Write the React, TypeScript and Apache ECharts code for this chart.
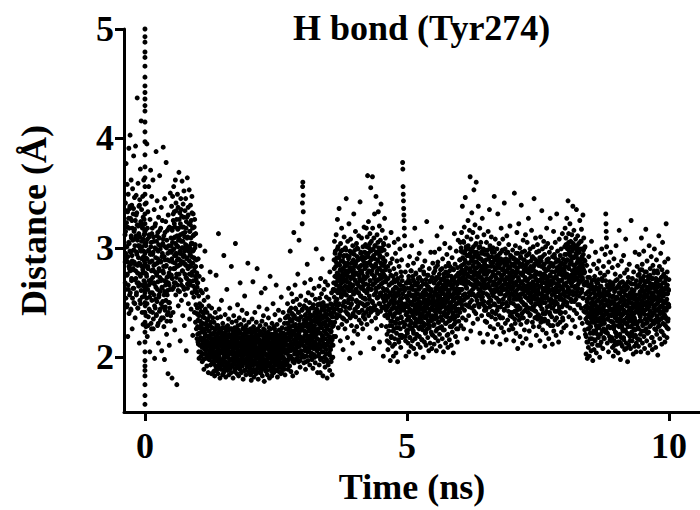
import React, { useEffect, useRef } from "react";
import * as echarts from "echarts";

// Distances in hundredths of an angstrom, per time window (ns)
const S_m04 = [312,268,341,295,254,377,289,323,246,301,358,276,333,219,287,349,262,305,391,240,318,281,336,297,403,259,327,285,244,362,309,272,339,293,226,318,354,280,263,331,298,384,250,315,287,346,271,302,236,325,393,279,311,348,257,296,332,268,437,307,284,245,359,320,291,265,338,302,213,276,344,310,285,372,249,324,297,416,266,335,283,301,255,319,347,277,230,308,292,362,270,326,288,241,315];
const S_00 = [283,247,316,265,302,228,341,276,254,395,290,219,308,262,333,281,237,298,356,270,244,312,287,205,326,259,294,371,268,231,305,279,347,252,288,318,241,273,362,296,226,310,284,257,335,267,199,300,278,245,322,291,264,388,238,306,275,251,343,286,229,314,269,297,213,328,255,281,309,242,366,273,260,299,234,318,287,249,337,271,206,292,263,325,246,304,279,392,236,283,311,257,270,198,345,289,243,301,266,324,252,378,284,221,307,273,239,316,261,295,185,330,268,250,302,277,211,319,245,288,262,350,233,297,274];
const S_05 = [302,275,338,290,181,316,262,347,298,241,325,281,356,309,268,333,293,225,319,286,362,304,257,341,295,273,326,175,311,283,349,266,301,337,247,318,290,369,276,308,260,332,297,215,322,285,345,270,306,252,329,294,361,279,313,238,300,340,287,264,319,352,293,229,310,276,334,299,257,345,284,318,206,302,272,328,291,364,263,310,281,337,249,297,322,270,353,288,235,315,300,266,339,283,309,244,325,292,275,347,259,304,318,220,286,331,270,298,255,312,279,241,326,290,262,303,232,283,248,271,226,259,240,217,264];
const S_10 = [245,221,268,234,290,212,256,238,199,274,227,249,302,216,233,261,205,242,228,283,211,247,223,196,259,231,214,271,203,240,225,189,252,218,236,208,297,222,244,199,230,215,262,207,226,192,241,213,234,201,255,219,186,229,210,247,198,224,212,238,204,278,217,193,232,208,221,185,245,214,200,227,209,236,196];
const S_13 = [208,195,221,187,232,203,214,183,226,199,241,210,192,218,275,205,188,229,212,197,236,201,222,185,215,313,207,193,244,211,199,226,181,218,204,237,196,212,189,252,223,206,194,216,184,231,209,198,220,186,293,213,201,227,191,208,239,196,217,182,224,205,211,193,262,219,200,188,229,207,214,195,235,203,184,221,210,197,245,212,190,226,204,218,186,283,209,198,232,215,192,206,224,181,213,200,238,208,194,219,187,227,211,196,304,216,203,190,233,209,221,185,214,199,248,206,193,225,210,183,218,202,236,195,213,189,268,222,205,197,230,211,186,217,201,243,208,192,226,214,180,220,204,198,234,212,188,256,207,195,223,203,216,184,229,210,199,240,206,191,219,213,286,201,225,187,209,232,196,218,205];
const S_20 = [203,190,217,184,226,198,211,179,222,206,194,235,209,187,215,269,201,193,228,212,182,219,204,196,241,210,188,224,200,213,185,232,207,195,218,281,203,191,226,214,180,220,199,209,246,192,216,205,186,229,211,197,223,204,189,259,214,200,233,208,183,221,195,212,202,238,190,217,206,178,225,210,198,263,215,193,230,203,187,219,209,196,244,212,184,222,201,214,192,236,207,199,227,210,181,218,204,274,195,213,226,189,208,221,200,183,231,211,197,216,205,249,191,219,209,186,228,202,214,194,239,206,198,223,188,212,266,203,217,193,230,208,182,220,201,213,196,243,210,187,225,204,215,191,234,207,199,221,185,212,255,203,218,195,227,209,189,216,205,241,200,222,192,214,207,231,197,219,184,211,236,204,226,193,215];
const S_27 = [218,204,237,195,226,249,211,189,231,216,263,201,224,242,208,192,235,219,297,206,228,187,245,213,222,258,199,233,210,239,183,221,251,207,229,314,216,195,238,224,205,266,212,230,198,244,219,226,186,253,209,235,217,202,276,227,213,241,196,222,307,234,210,248,219,191,229,204,256,215,237,200,225,212,243,322,341,356,360,348,333,218,231,195,247,210,224,268,206,238,215,189,252,221,233,201,245,213,228,285,209,236,218,197,259,224,242,207,230,215,250,193,226,239,211,271,220,204,245,232,216,198,257,227,212,238,190,223,248,208,234,219,263,202,229,241,214,195,253,225,236,210,299,221,244,206,232,217,186,248];
const S_33 = [226,248,201,237,212,265,193,230,254,208,241,186,222,272,216,235,199,258,227,244,205,290,219,231,183,250,213,238,196,262,224,209,246,232,191,269,217,240,203,228,255,198,236,221,181,247,211,266,229,193,243,215,234,253,204,225,188,278,218,239,207,249,223,196,232,259,212,245,184,228,241,200,237,262,219];
const S_36 = [268,241,289,255,306,232,274,261,297,219,283,248,312,266,236,291,253,277,326,244,270,301,227,262,285,249,336,273,238,294,259,280,215,304,267,243,288,256,318,230,275,262,298,247,281,207,269,292,235,258,310,276,251,286,226,265,300,242,279,257,345,271,233,293,263,284,218,306,250,274,239,290,261,322,245,280,199,267,297,236,255,308,272,248,286,229,264,295,253,278,213,302,266,240,289,258,331,275,224,283,260,298,244,270,315,237,287,262,251,304,228,276,292,246,268,221,299,259,282,241,311,265,234,290,272,250,342,279,204,295,256,284,231,309,263,277,243,292,269,226,301,254,288,239,274,319,261,247,296,235];
const S_42 = [281,253,303,267,241,295,318,259,286,230,310,274,366,249,292,263,324,238,279,300,256,287,218,313,270,245,297,355,262,284,306,233,276,291,251,365,318,266,243,299,282,208,309,257,272,331,290,247,268,302,236,283,347,260,295,226,277,312,254,289,240,305,271,333,264,296,249,281,320,214,293,258,275,307,242,286,340,267,229,300,279,256,316,273,245,291,263,201,304,284,251,298,269,327,238,288,274,309,257,282];
const S_46 = [252,228,271,239,294,215,261,246,283,207,255,238,302,224,266,249,213,279,242,259,197,286,233,251,314,219,268,244,229,290,256,210,274,237,262,201,248,281,226,305,253,217,269,240,232,295,258,204,276,245,222,263,288,235,250,196,272,241,308,227,257,214,283,246,261,231,299,220,266,251,209,278,243,236,289,254,218,270,247,378,372,356,349,343,336,330,325,318,311,302,263,230,278,215,249,201,239,268,224,256];
const S_50 = [241,268,222,253,284,213,247,236,271,205,259,229,292,244,218,263,250,233,279,210,256,241,302,226,265,248,215,274,238,257,224,286,208,252,243,269,231,318,246,217,261,235,277,203,254,240,266,221,290,249,232,258,212,272,243,227,263,251,295,219,246,237,280,209,255,264,228,244,306,234,270,216,250,239,283,225,259,200,267,242,231,276,253,214,246,288,236,261,222,248,271,211,257,238,324,245,226,265,252,218,275,240,233,262,206,249,281,229,256,243,213,270,237,296,251,223,260,245,208,273,234,255,247,286,220];
const S_55 = [254,229,277,243,212,268,251,296,235,260,218,282,247,239,271,206,258,244,311,226,265,252,287,215,249,273,232,262,242,299,221,256,268,210,245,280,237,263,250,319,228,271,246,217,259,290,234,266,253,205,276,241,262,225,248,304,238,270,256,213,283,244,231,265,251,294,220,258,274,240,209,267,254,286,233,261,247,216,279,243,300,228,257,269,236,250,211,274,263,245,291,223,255,281,239,266,204,252,272,230,259,313,247,236,285,261,219,268,242,254,297,226,263,275,249,214,282,238,258,307,244,270,233,262,251];
const S_60 = [262,289,241,276,305,254,283,229,297,268,314,248,280,262,338,236,291,273,252,306,226,285,267,319,243,278,295,258,346,271,287,234,301,264,282,217,310,255,276,293,247,325,269,286,238,299,274,259,316,281,250,365,292,267,224,308,278,257,288,332,245,297,272,262,314,231,284,301,266,353,279,247,293,270,321,256,287,303,240,276,360,265,296,252,282,310,269,235,291,274,338,258,285,300,246,277,267,318,222,290,261,283,305,249,273,296,238,281,264,327,255,288,271,214,299,279,251,312,268,243,286,263,294,233,276];
const S_65 = [271,243,289,258,305,232,276,264,298,221,283,250,315,267,239,292,255,279,335,246,270,302,228,262,287,252,273,310,237,285,259,296,214,278,266,241,300,256,283,226,269,347,290,248,275,260,308,235,281,266,292,219,272,254,299,243,285,263,331,230,277,289,251,268,304,238,282,258,212,295,271,246,286,264,318,227,274,261,297,249,280,236,308,266,253,289,223,276,262,341,244,284,270,299,231,268,257,290,216,279,263,311,247,286,272,234,296,259,281,242,303,267,225,288,255,274,320,238,265,293,250,277,262,229,284];
const S_70 = [258,285,237,272,298,226,264,249,291,215,278,256,350,242,283,268,231,302,260,276,222,289,253,269,314,239,281,262,208,295,247,273,257,322,234,286,265,244,300,219,277,254,291,230,268,339,251,283,240,296,262,213,275,258,307,236,289,266,248,280,225,297,261,271,243,312,255,284,217,270,293,246,263,305,233,278,259,287,241,327,267,252,295,224,281,264,238,299,256,273,211,288,250,266,316,244,279,260,232,292,268,254,301,228,283,262,345,247,275,290,236,265,253,309,242,286,271,220,296,258,277,249,303,235,269];
const S_75 = [262,239,284,251,297,228,270,258,291,215,277,247,310,265,236,288,253,274,334,244,268,299,225,260,283,250,272,306,233,281,256,294,210,275,263,240,301,254,279,222,267,318,287,246,271,259,304,231,280,264,290,217,269,252,296,241,283,261,327,229,274,286,249,266,300,237,278,257,212,292,268,245,285,262,315,224,272,259,294,248,278,234,305,263,251,287,220,273,260,331,242,282,267,297,230,265,255,289,214,276,261,308,246,284,270,232,293,257,279,241,299,264,223,286,253,271,313,236,262,290,248,275,259,227,281];
const S_80 = [279,252,301,266,318,241,287,273,309,229,294,260,327,276,247,303,264,289,343,255,282,313,237,271,297,261,285,322,245,293,268,306,222,288,275,251,312,265,291,234,279,338,299,257,284,270,316,243,292,276,302,228,281,263,308,253,295,273,335,240,286,298,260,277,311,248,290,267,218,304,282,256,296,274,325,236,283,270,306,259,289,245,317,278,262,299,231,285,271,330,254,294,280,309,242,277,266,300,225,288];
const S_84 = [246,221,268,235,203,258,242,284,214,251,199,237,273,226,260,209,245,292,231,255,201,266,240,217,279,249,228,262,206,243,306,234,270,212,253,238,197,264,247,222,285,241,207,259,232,274,216,250,236,296,224,262,244,204,268,239,227,281,252,211,257,233,271,218,246,288,229,263,241,200,255,236,277,221,249,265,214,243,230,299,258,224,270,237,208,252,245,283,226,261,234,217,275,248,239,294,223,257,331,322,315,309,301,242,266,213,251,235,278,228,260,205,247,287,238,256,219,269,243,227,262,296,233,250,215];
const S_89 = [239,264,218,251,282,209,243,232,268,201,256,226,290,241,215,260,247,229,276,206,253,238,302,222,263,245,212,271,235,254,220,284,204,249,240,266,228,316,243,214,258,232,274,198,251,237,263,218,288,246,229,255,210,269,240,224,260,248,293,216,243,234,277,207,252,261,225,241,308,231,267,213,247,236,280,222,256,196,264,239,228,273,250,211,243,285,233,258,219,245,268,208,254,235,325,242,223,262,249,215,272,237,230,259,203,246,278,226,253,240,210,267,234,296,248,220,257,242,205,270,231,252,244,283,217];
const S_94 = [252,227,275,241,210,266,249,294,233,258,216,280,245,237,269,205,256,242,309,224,263,250,285,213,247,271,230,260,240,297,219,254,266,208,243,278,235,261,248,317,226,269,244,215,257,288,232,264,251,204,274,239,260,223,246,302,236,268,254,211,281,242,229,263,249,292,218,256,272,238,207,265,252,284,231,259,245,214,277,241,299,226,255,267,234,248,209,272,261,243,289,221,253,279,237,264,202,250,270,228,257,311,245,234,283,259,217,266,240,252,295,224,261,273,247,212,280,236,256,305,242,268,231,260,249,276,220,258,239,287,214,263,250,229,271,244,322,235,265,253,218,278,246,258,233,290,226,262,248,271];

// Additional frames in each window (dense core of the distribution)
const C_m04 = [287,315,262,301,334,275,248,319,292,266,327,283,304,257,338,279,296,243,311,270,325,288,254,307,281,336,263,298,317,249,285,309,272,330,259,294,321,277,245,302,268,313,286,339,252,299,274,322,261,306,290,241,318,280,328,265,297,312,256,284];
const C_00 = [262,291,238,305,274,249,318,283,229,297,266,310,255,287,242,301,271,226,313,259,294,280,235,306,268,247,320,285,253,299,239,276,311,262,290,231,303,257,279,316,244,288,270,302,236,264,295,251,308,277,228,292,260,314,246,283,269,300,233,257,289,274,241,318,266,250,297,281,238,309];
const C_05 = [296,318,272,305,287,331,264,299,322,281,310,268,293,334,276,302,289,317,261,307,284,326,295,271,312,288,335,266,300,319,279,306,292,328,262,297,314,285,303,273,324,290,309,267,298,330,283,301,276,315,294,321,269,304,286,332,278,297,311,265,291,319,282,300,274,313,260,289,277,268];
const C_10 = [228,214,239,205,222,233,211,246,218,201,230,224,209,237,216,198,226,212,242,207,220,231,203,215,227,210,235,199,219,224,206,213,229,202,217,208,221,196,212,204];
const C_13 = [205,217,194,223,209,188,214,199,226,203,191,219,208,229,196,212,201,224,190,215,206,197,221,210,193,227,204,218,199,211,188,216,207,222,195,213,202,228,191,209,218,200,225,193,214,205,190,220,211,198,226,203,216,194,208,222,197,213,204,189,219,210,200,224,192,215,207,229,196,212,202,218,190,223,206,198,214,209,193,221,201,217,195,227,205,211,188,220,203,214,197,225,208,192,216,200,223,195,210,206];
const C_20 = [201,213,192,219,206,186,211,197,223,204,189,216,208,225,194,210,199,221,187,214,203,195,218,207,190,224,200,215,196,209,186,213,204,220,193,211,198,226,189,207,216,197,222,191,212,202,188,217,209,195,223,200,214,192,205,219,194,210,201,187,218,207,197,221,190,213,204,226,193,209,199,216,188,220,203,196,212,206,191,219,198,215,193,224,202,208,186,217,200,211,195,222,205,189,213,198,220,193,207,204];
const C_27 = [216,231,204,238,222,198,227,210,243,215,201,233,219,207,240,224,196,229,212,236,203,221,245,208,226,214,199,235,218,205,241,223,210,230,197,217,237,206,225,213,244,202,228,216,200,234,220,209,239,223,196,231,214,205,242,219,207,227,212,235,201,224,217,238,209,229,203,221,245,213,226,200,233,218,208,240,222,211,236,225];
const C_33 = [225,241,203,233,215,249,198,228,238,210,246,220,205,236,217,243,200,230,212,247,222,207,239,226,196,234,214,244,219,202,231,209,240,224,199,237,216,248,211,229];
const C_36 = [262,281,244,295,268,251,287,273,239,299,259,276,248,291,265,284,242,270,297,255,279,263,236,288,272,250,293,260,283,246,275,298,257,269,240,286,264,278,253,292,268,245,282,261,296,249,274,287,238,266,280,258,294,271,243,285,262,277,252,300,267,247,289,259,275,241,283,270,256,296,263,279,249,290,265,237,284,272,254,291];
const C_42 = [272,291,248,283,301,260,277,244,295,266,286,253,304,270,241,289,262,279,298,250,283,267,293,246,274,302,258,285,263,296,243,279,270,288,255,300,265,281,249,292,272,259,297,246,284,268,290,254,276,303,261,287,247,280,269];
const C_46 = [243,262,221,255,236,272,214,248,266,229,258,240,275,218,252,233,268,245,224,260,238,271,212,250,264,231,256,244,227,270,235,259,216,247,267,241,253,226,262,237,274,220,249,258,232,265,243,228,261,246,219,255,239,268,234];
const C_50 = [246,263,225,252,274,237,258,218,268,243,231,279,250,227,262,241,271,222,255,236,266,248,229,276,244,258,220,253,268,234,247,262,226,273,240,257,232,265,249,216,270,238,255,245,278,229,261,242,251,223,267,236,258,247,275,230,253,264,240,227,269,244,257,233,262,250,221,272,238,254];
const C_55 = [251,268,230,257,279,242,263,224,273,248,236,284,255,232,267,246,276,227,260,241,271,253,234,281,249,263,225,258,273,239,252,267,231,278,245,262,237,270,254,221,275,243,260,250,283,234,266,247,256,228,272,241,263,252,280,235,258,269,245,232,274,249,262,238,267,255,226,277,243,259];
const C_60 = [272,289,250,278,300,262,284,245,296,270,257,305,276,253,289,267,298,248,281,263,293,274,255,302,268,286,246,279,295,260,273,288,252,299,266,283,258,291,275,242,296,264,281,271,304,255,287,268,277,249,293,262,284,273,301,256,279,290,266,253,295,270,283,259,288,276,247,298,264,280];
const C_65 = [266,283,245,272,294,257,278,239,290,264,251,299,270,247,283,261,292,242,275,257,287,268,249,296,262,280,240,273,289,254,267,282,246,293,260,277,252,285,269,236,290,258,275,265,298,249,281,262,271,243,287,256,278,267,295,250,273,284,260,247,289,264,277,253,282,270,241,292,258,274];
const C_70 = [262,279,241,268,290,253,274,235,286,260,247,295,266,243,279,257,288,238,271,253,283,264,245,292,258,276,236,269,285,250,263,278,242,289,256,273,248,281,265,232,286,254,271,261,294,245,277,258,267,239,283,252,274,263,291,246,269,280,256,243,285,260,273,249,278,266,237,288,254,270];
const C_75 = [259,276,238,265,287,250,271,232,283,257,244,292,263,240,276,254,285,235,268,250,280,261,242,289,255,273,233,266,282,247,260,275,239,286,253,270,245,278,262,229,283,251,268,258,291,242,274,255,264,236,280,249,271,260,288,243,266,277,253,240,282,257,270,246,275,263,234,285,251,267];
const C_80 = [277,294,256,283,303,268,289,250,299,275,262,305,281,258,294,272,301,253,286,268,297,279,260,304,273,291,251,284,300,265,278,293,257,302,271,288,263,296,280,248,299,269,286,276,306,260,292,273,282,254,298,267,289,278,301];
const C_84 = [241,258,219,247,269,232,253,214,265,239,226,273,245,222,258,236,267,217,250,232,262,243,224,271,237,255,215,248,264,229,242,257,221,268,235,252,227,260,244,211,265,233,250,240,272,224,256,237,246,218,262,231,253,242,270,225,248,259,235,222,264,239,252,228,257,245,216,267,233,249];
const C_89 = [238,255,216,244,266,229,250,211,262,236,223,270,242,219,255,233,264,214,247,229,259,240,221,268,234,252,212,245,261,226,239,254,218,265,232,249,224,257,241,208,262,230,247,237,269,221,253,234,243,215,259,228,250,239,267,222,245,256,232,219,261,236,249,225,254,242,213,264,230,246];
const C_94 = [248,265,226,254,276,239,260,221,272,246,233,280,252,229,265,243,274,224,257,239,269,250,231,278,244,262,222,255,271,236,249,264,228,275,242,259,234,267,251,218,272,240,257,247,279,231,263,244,253,225,269,238,260,249,277,232,255,266,242,229,271,246,259,235,264,252,223,274,240,256,245,262,230,268,251,237,273,243,258,227,266,249,235,261,246];

// frames recorded at t = 0
const S_ZERO = [500,493,488,479,474,466,456,448,442,436,430,425,415,406,397,385,374,364,356,349,340,331,322,313,304,295,286,277,268,259,250,241,232,223,214,205,197,192,188,183,175,165,157];

const SEGMENTS: [number, number, number[], number[]][] = [
  [-0.38, 0, S_m04, C_m04], [0, 0.5, S_00, C_00], [0.5, 1.0, S_05, C_05], [1.0, 1.3, S_10, C_10],
  [1.3, 2.0, S_13, C_13], [2.0, 2.7, S_20, C_20], [2.7, 3.3, S_27, C_27], [3.3, 3.6, S_33, C_33],
  [3.6, 4.2, S_36, C_36], [4.2, 4.6, S_42, C_42], [4.6, 5.0, S_46, C_46], [5.0, 5.5, S_50, C_50],
  [5.5, 6.0, S_55, C_55], [6.0, 6.5, S_60, C_60], [6.5, 7.0, S_65, C_65], [7.0, 7.5, S_70, C_70],
  [7.5, 8.0, S_75, C_75], [8.0, 8.4, S_80, C_80], [8.4, 8.9, S_84, C_84], [8.9, 9.4, S_89, C_89],
  [9.4, 10.0, S_94, C_94],
];

const X_TICKS = [0, 5, 10];
const Y_TICKS = [2, 3, 4, 5];

function buildPoints(): number[][] {
  const pts: number[][] = [];
  for (const [t0, t1, vals, core] of SEGMENTS) {
    const n = vals.length;
    for (let i = 0; i < n; i++) pts.push([t0 + ((t1 - t0) * i) / n, vals[i] / 100]);
    const m = core.length;
    for (let i = 0; i < m; i++) pts.push([t0 + ((t1 - t0) * (i + 0.5)) / m, core[i] / 100]);
  }
  for (const v of S_ZERO) pts.push([0, v / 100]);
  return pts;
}

const FONT = "Liberation Serif";

export default function App() {
  const ref = useRef<HTMLDivElement>(null);
  useEffect(() => {
    if (!ref.current) return;
    const chart = echarts.init(ref.current, null, { renderer: "svg" });
    const axisText = { fontFamily: FONT, fontWeight: "bold" as const, fontSize: 36, color: "#000" };
    chart.setOption({
      animation: false,
      title: {
        text: "H bond (Tyr274)",
        left: 293,
        top: 10,
        padding: 0,
        textStyle: { ...axisText },
      },
      grid: { left: 124, right: 0, top: 29, bottom: 96 },
      xAxis: {
        type: "value",
        min: -0.4,
        max: 10.59,
        name: "Time (ns)",
        nameLocation: "middle",
        nameGap: 57,
        nameTextStyle: { ...axisText },
        axisLine: { show: true, onZero: false, lineStyle: { color: "#000", width: 3 } },
        axisTick: { show: true, length: 9, lineStyle: { color: "#000", width: 3 }, customValues: X_TICKS },
        axisLabel: { ...axisText, margin: 16, customValues: X_TICKS },
        splitLine: { show: false },
      },
      yAxis: {
        type: "value",
        min: 1.5,
        max: 5,
        name: "Distance (Å)",
        nameLocation: "middle",
        nameGap: 72,
        nameTextStyle: { ...axisText },
        axisLine: { show: true, onZero: false, lineStyle: { color: "#000", width: 3 } },
        axisTick: { show: true, length: 9, lineStyle: { color: "#000", width: 3 }, customValues: Y_TICKS },
        axisLabel: { ...axisText, margin: 10, customValues: Y_TICKS },
        splitLine: { show: false },
      },
      series: [
        {
          type: "scatter",
          data: buildPoints(),
          symbol: "circle",
          symbolSize: 5,
          itemStyle: { color: "#000", opacity: 1 },
          emphasis: { disabled: true },
        },
      ],
    });
    return () => chart.dispose();
  }, []);
  return <div ref={ref} style={{ position: "absolute", left: 0, top: 0, width: 700, height: 510 }} />;
}
